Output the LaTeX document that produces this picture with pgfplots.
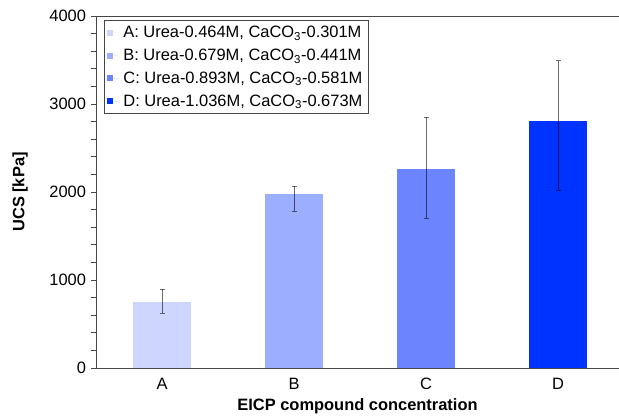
\documentclass[border=0pt]{standalone}
\usepackage{pgfplots}
\pgfplotsset{compat=1.18}
\usepackage{fontspec}
\setmainfont{Liberation Sans}
\definecolor{colA}{RGB}{206,214,255}
\definecolor{colB}{RGB}{155,174,255}
\definecolor{colC}{RGB}{106,133,255}
\definecolor{colD}{RGB}{0,51,255}
\definecolor{axcol}{RGB}{70,70,70}
\newcommand{\fs}{\fontsize{16.5}{19.8}\selectfont}
\begin{document}
\begin{tikzpicture}
\begin{axis}[
  at={(0,0)}, anchor=south west,
  scale only axis, width=523bp, height=352bp,
  xmin=-0.5, xmax=3.462, ymin=0, ymax=4000,
  axis x line*=bottom, axis y line*=left,
  axis line style={axcol, line width=0.9bp, -},
  xtick={0,1,2,3}, xticklabels={A,B,C,D},
  x tick style={draw=none},
  ytick={0,1000,2000,3000,4000},
  minor y tick num=4,
  y tick style={axcol, line width=0.8bp},
  tick align=outside,
  major tick length=5bp, minor tick length=5bp,
  /pgf/number format/assume math mode=true,
  /pgf/number format/1000 sep={},
  tick label style={font=\fs},
  xticklabel style={anchor=base, yshift=-16bp},
  yticklabel style={xshift=-1.5bp},
  xlabel={\bfseries EICP compound concentration},
  ylabel={\bfseries UCS [kPa]},
  xlabel style={font=\fs, at={(axis description cs:0.5,-0.110)}, anchor=center},
  ylabel style={font=\fs, at={(axis description cs:-0.1453,0.5)}, anchor=center},
  ybar, bar width=58bp, bar shift=0pt,
  error bars/y dir=both, error bars/y explicit,
  error bars/error bar style={black, opacity=0.55, line width=1bp},
  error bars/error mark options={black, opacity=0.55, line width=1bp, mark size=2.5bp, rotate=90},
  legend cell align=left,
  legend style={font=\fs, at={(axis description cs:0.0153,0.9886)}, anchor=north west,
    draw=axcol, line width=0.8bp, inner xsep=2bp, inner ysep=1bp,
    nodes={inner ysep=4.9bp, inner xsep=4bp}},
  legend image code/.code={\path (0bp,0bp) -- (13bp,0bp); \fill[#1] (0.5bp,-3bp) rectangle (6.5bp,3bp);},
]
\addplot[fill=colA, draw=none] coordinates {(0,753) += (0,141) -= (0,128)};
\addlegendentry{A: Urea-0.464M, CaCO\textsubscript{3}-0.301M}
\addplot[fill=colB, draw=none] coordinates {(1,1977) += (0,91) -= (0,193)};
\addlegendentry{B: Urea-0.679M, CaCO\textsubscript{3}-0.441M}
\addplot[fill=colC, draw=none] coordinates {(2,2256) += (0,596) -= (0,553)};
\addlegendentry{C: Urea-0.893M, CaCO\textsubscript{3}-0.581M}
\addplot[fill=colD, draw=none] coordinates {(3,2810) += (0,680) -= (0,790)};
\addlegendentry{D: Urea-1.036M, CaCO\textsubscript{3}-0.673M}
\draw[axcol, line width=0.9bp] (rel axis cs:0,1) -- (rel axis cs:1,1);
\end{axis}
\pgfresetboundingbox
\useasboundingbox (-96bp,-49bp) rectangle (523bp,368bp);
\end{tikzpicture}
\end{document}
